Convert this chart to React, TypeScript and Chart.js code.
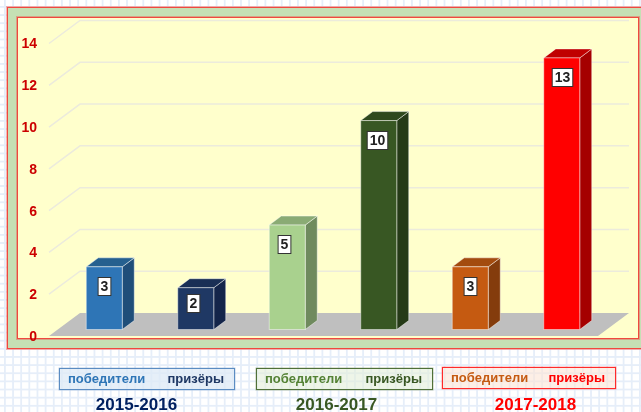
import React, { useEffect, useRef } from "react";
import { Chart, registerables } from "chart.js";

Chart.register(...registerables);

const categories = ["2015-2016 победители", "2015-2016 призёры", "2016-2017 победители", "2016-2017 призёры", "2017-2018 победители", "2017-2018 призёры"];
const values = [3, 2, 5, 10, 3, 13];
const frontColors = ["#2e75b6", "#1f3864", "#a9d18e", "#385723", "#c55a11", "#ff0000"];
const sideColors = ["#1f4e79", "#14254a", "#6f8a5e", "#253a17", "#843c0c", "#a50000"];
const topColors = ["#25608f", "#1a2f55", "#8aab74", "#2f491d", "#a34b0e", "#c00000"];
const yearLabels = ["2015-2016", "2016-2017", "2017-2018"];
const winnerLabel = "победители";
const prizeLabel = "призёры";
const legendColors = [["#2e75b6", "#1f3864"], ["#548235", "#385723"], ["#c55a11", "#ff0000"]];
const yearColors = ["#002060", "#385723", "#ff0000"];
const legendBorders = ["#5b8cc2", "#4f7038", "#ff2a2a"];
const legendFills = ["rgba(222,234,246,.75)", "rgba(226,239,217,.6)", "rgba(251,228,213,.6)"];

const FONT = '"Liberation Sans", Arial, sans-serif';

const scene3d = {
  id: "scene3d",
  beforeDatasetsDraw(chart: any) {
    const { ctx, scales: { x, y }, chartArea: a } = chart;
    const dx = 31, dy = 23;
    ctx.save();
    const y0 = y.getPixelForValue(0);
    ctx.fillStyle = "#bfbfbf";
    ctx.beginPath();
    ctx.moveTo(a.left, y0);
    ctx.lineTo(a.left + dx, y0 - dy);
    ctx.lineTo(a.right + dx, y0 - dy);
    ctx.lineTo(a.right, y0);
    ctx.closePath();
    ctx.fill();
    ctx.strokeStyle = "#ecebdc";
    ctx.lineWidth = 1.5;
    y.ticks.forEach((t: any) => {
      if (t.value === 0) return;
      const py = y.getPixelForValue(t.value);
      ctx.beginPath();
      ctx.moveTo(a.left, py);
      ctx.lineTo(a.left + dx, py - dy);
      ctx.lineTo(a.right + dx, py - dy);
      ctx.stroke();
    });
    ctx.restore();
  },
  beforeDatasetDraw(chart: any, args: any) {
    const { ctx } = chart;
    const meta = args.meta;
    const ox = 9.5, oy = 6.5, dx = 12, dy = 9;
    const edge = "rgba(255,255,255,.45)";
    const nudge = [-0.5, -3, -3, -2, 0, 0.5];
    meta.data.forEach((el: any, i: number) => {
      const w = el.width;
      const l = el.x - w / 2 + ox;
      const r = l + w;
      const t = el.y - oy;
      const b = el.base - oy;
      ctx.save();
      ctx.lineWidth = 1;
      ctx.strokeStyle = edge;
      ctx.fillStyle = sideColors[i];
      ctx.beginPath();
      ctx.moveTo(r, t);
      ctx.lineTo(r + dx, t - dy);
      ctx.lineTo(r + dx, b - dy);
      ctx.lineTo(r, b);
      ctx.closePath();
      ctx.fill();
      ctx.stroke();
      ctx.fillStyle = topColors[i];
      ctx.beginPath();
      ctx.moveTo(l, t);
      ctx.lineTo(l + dx, t - dy);
      ctx.lineTo(r + dx, t - dy);
      ctx.lineTo(r, t);
      ctx.closePath();
      ctx.fill();
      ctx.stroke();
      ctx.fillStyle = frontColors[i];
      ctx.fillRect(l, t, w, b - t);
      ctx.strokeRect(l, t, w, b - t);

      const text = String(values[i]);
      ctx.font = `bold 14px ${FONT}`;
      ctx.textAlign = "center";
      ctx.textBaseline = "middle";
      const tw = ctx.measureText(text).width;
      const bw = tw + 5;
      const bh = 18;
      const cx = Math.round((l + r) / 2 + nudge[i]) + 0.5;
      const cy = Math.round(t + Math.min(19, (b - t) * 0.37)) + 0.5;
      ctx.fillStyle = "#ffffff";
      ctx.fillRect(cx - bw / 2, cy - bh / 2, bw, bh);
      ctx.strokeStyle = "#333333";
      ctx.strokeRect(cx - bw / 2, cy - bh / 2, bw, bh);
      ctx.fillStyle = "#222222";
      ctx.fillText(text, cx, cy + 0.5);
      ctx.restore();
    });
    return false;
  },
};

const pos = (o: any): React.CSSProperties => ({ position: "absolute", boxSizing: "border-box", ...o });

const frameBorder = "1px solid #f0483e";
const frameGlow = "0 0 0 1px rgba(240,72,62,.4)";

export default function App() {
  const ref = useRef<HTMLCanvasElement>(null);
  useEffect(() => {
    document.body.style.margin = "0";
    const chart = new Chart(ref.current!, {
      type: "bar",
      data: {
        labels: categories,
        datasets: [{ data: values, backgroundColor: frontColors, barThickness: 36 }],
      },
      plugins: [scene3d],
      options: {
        animation: false,
        responsive: false,
        layout: { padding: { left: 0, top: 43.5, right: 43, bottom: 76 } },
        plugins: { legend: { display: false }, tooltip: { enabled: false } },
        scales: {
          x: { display: false, offset: true },
          y: {
            min: 0,
            max: 14,
            afterFit: (s: any) => { s.width = 49; },
            border: { display: false },
            grid: { display: false, drawTicks: false },
            ticks: {
              stepSize: 2,
              padding: 12,
              labelOffset: 1,
              color: "#cc0000",
              font: { family: FONT, size: 14, weight: "bold" },
            },
          },
        },
      },
    } as any);
    return () => chart.destroy();
  }, []);

  const legendX = [59, 256, 442];
  const legendW = [176, 177, 174];
  const legendY = [368, 368, 367];
  const yearCenter = [136.5, 336.5, 535.5];
  return (
    <div style={{ position: "relative", width: 641, height: 412, overflow: "hidden", backgroundColor: "#fff",
      backgroundImage: "linear-gradient(#e6eef9 2px, transparent 2px), linear-gradient(90deg, #e6eef9 2px, transparent 2px)",
      backgroundSize: "8.15px 8.15px", backgroundPosition: "4px 6px" }}>
      <div style={pos({ left: 7, top: 7, width: 700, height: 342, background: "#c5e0b4", border: frameBorder, boxShadow: frameGlow })} />
      <div style={pos({ left: 17, top: 17, width: 622, height: 322, background: "#ffffcc", border: frameBorder, boxShadow: frameGlow })} />
      <canvas ref={ref} width={641} height={412} style={{ position: "absolute", left: 0, top: 0, display: "block" }} />
      {yearLabels.map((yr, i) => (
        <React.Fragment key={yr}>
          <div style={pos({ left: legendX[i], top: legendY[i], width: legendW[i], height: 22, border: `1px solid ${legendBorders[i]}`, boxShadow: `0 0 0 0.5px ${legendBorders[i]}66`, background: legendFills[i], font: `bold 13px ${FONT}`, lineHeight: "20px", whiteSpace: "nowrap" })}>
            <span style={{ position: "absolute", left: 8, color: legendColors[i][0] }}>{winnerLabel}</span>
            <span style={{ position: "absolute", right: 10, color: legendColors[i][1] }}>{prizeLabel}</span>
          </div>
          <div style={pos({ left: yearCenter[i] - 60, top: 395, width: 120, textAlign: "center", color: yearColors[i], font: `bold 17px ${FONT}`, lineHeight: "20px" })}>{yr}</div>
        </React.Fragment>
      ))}
    </div>
  );
}
